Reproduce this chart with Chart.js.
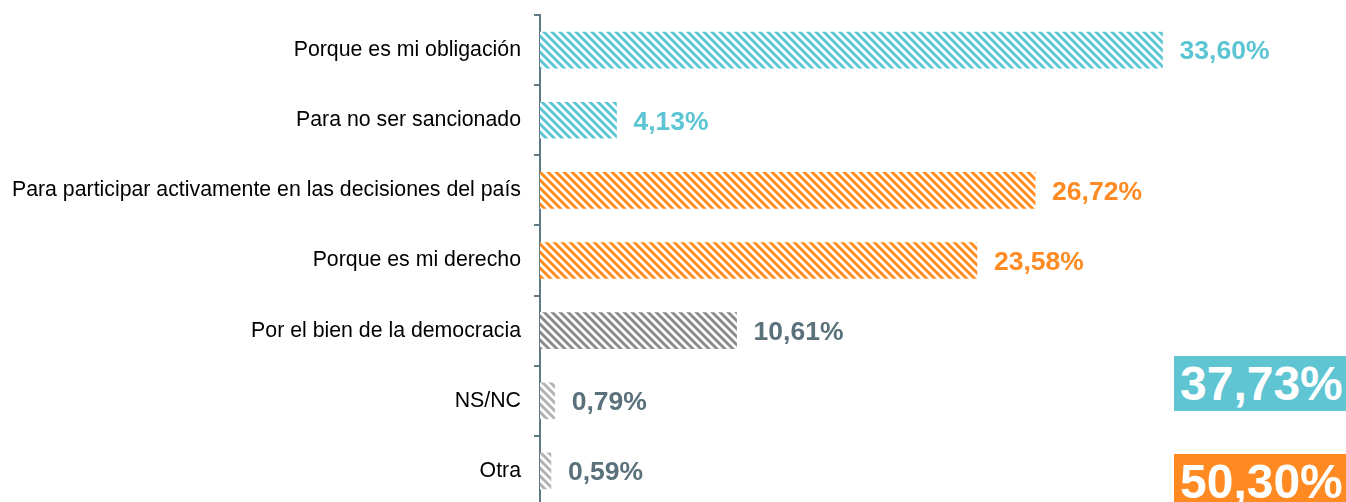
<!DOCTYPE html>
<html><head><meta charset="utf-8">
<script src="https://cdn.jsdelivr.net/npm/chart.js@4/dist/chart.umd.min.js"></script>
<style>
html,body{margin:0;padding:0;background:#fff;overflow:hidden;}
#wrap{position:relative;width:1346px;height:502px;overflow:hidden;}
#c{position:absolute;left:0;top:0;}
.box{position:absolute;left:1174px;width:172px;color:#fff;font-family:Arial,"Liberation Sans",sans-serif;font-weight:bold;font-size:48px;line-height:55px;padding-left:6px;box-sizing:border-box;white-space:nowrap;overflow:hidden;}
</style></head>
<body>
<div id="wrap"><canvas id="c" width="1346" height="506"></canvas>
<div class="box" id="b1" style="top:356px;height:55px;background:#5FC5D3;">37,73%</div>
<div class="box" id="b2" style="top:454px;height:60px;background:#FF8A22;">50,30%</div>
</div>
<script>
const categories = ["Porque es mi obligación","Para no ser sancionado","Para participar activamente en las decisiones del país","Porque es mi derecho","Por el bien de la democracia","NS/NC","Otra"];
const values = [33.60, 4.13, 26.72, 23.58, 10.61, 0.79, 0.59];
const valueLabels = ["33,60%","4,13%","26,72%","23,58%","10,61%","0,79%","0,59%"];
const groups = ["teal","teal","orange","orange","gray","lightgray","lightgray"];

const barColors = {teal:[91,197,211], orange:[255,138,30], gray:[138,138,138], lightgray:[178,178,178]};
const labelColors = {teal:"#5BC5D3", orange:"#FF8A22", gray:"#5A707B", lightgray:"#5A707B"};

function makePattern(rgb){
  const P = 8;
  const c = document.createElement('canvas'); c.width = P; c.height = P;
  const ctx = c.getContext('2d');
  const img = ctx.createImageData(P,P);
  for(let y=0;y<P;y++) for(let x=0;x<P;x++){
    const t = (((x - y) % P) + P) % P / P;
    let k = 0.55 + 0.75*Math.cos(2*Math.PI*t);
    k = Math.max(0, Math.min(1, k));
    const i = (y*P+x)*4;
    img.data[i] = Math.round(255 + (rgb[0]-255)*k);
    img.data[i+1] = Math.round(255 + (rgb[1]-255)*k);
    img.data[i+2] = Math.round(255 + (rgb[2]-255)*k);
    img.data[i+3] = 255;
  }
  ctx.putImageData(img,0,0);
  return document.getElementById('c').getContext('2d').createPattern(c,'repeat');
}

const valueLabelPlugin = {
  id:'valueLabels',
  afterDatasetsDraw(chart){
    const ctx = chart.ctx;
    const meta = chart.getDatasetMeta(0);
    ctx.save();
    ctx.font = 'bold 26.5px Arial, "Liberation Sans", sans-serif';
    ctx.textBaseline = 'middle';
    ctx.textAlign = 'left';
    meta.data.forEach((bar,i)=>{
      ctx.fillStyle = labelColors[groups[i]];
      ctx.fillText(valueLabels[i], bar.x + 17, bar.y + 2);
    });
    ctx.restore();
  }
};

new Chart(document.getElementById('c'), {
  type:'bar',
  data:{
    labels: categories,
    datasets:[{
      data: values,
      backgroundColor: groups.map(g=>makePattern(barColors[g])),
      borderWidth:0,
      barThickness:36
    }]
  },
  options:{
    indexAxis:'y',
    responsive:false,
    animation:false,
    layout:{padding:{top:15,right:0,bottom:0,left:0}},
    plugins:{legend:{display:false},tooltip:{enabled:false}},
    scales:{
      x:{display:false,min:0,max:43.5},
      y:{
        afterFit(s){ s.width = 540; s.paddingTop = 0; s.paddingBottom = 0; },
        grid:{drawOnChartArea:false,offset:true,tickLength:6,color:'#5F7A85',lineWidth:2},
        border:{display:true,color:'#5F7A85',width:2},
        ticks:{color:'#000',font:{family:'Arial, "Liberation Sans", sans-serif',size:21.3},padding:13}
      }
    }
  },
  plugins:[valueLabelPlugin]
});
</script>
</body></html>
